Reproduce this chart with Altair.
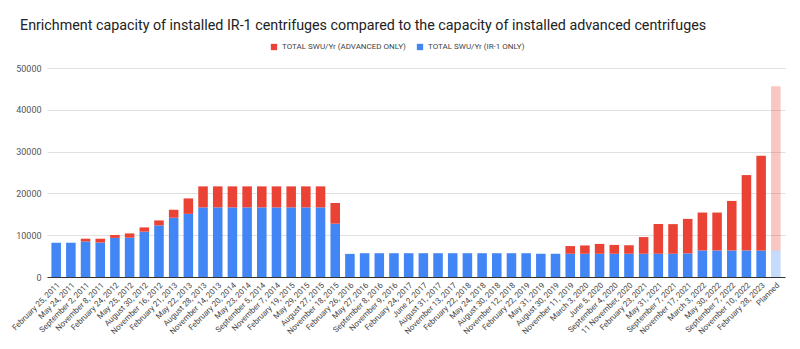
import altair as alt
import pandas as pd

dates = [
    "February 25, 2011", "May 24, 2011", "September 2, 2011", "November 8, 2011",
    "February 24, 2012", "May 25, 2012", "August 30, 2012", "November 16, 2012",
    "February 21, 2013", "May 22, 2013", "August 28, 2013", "November 14, 2013",
    "February 20, 2014", "May 23, 2014", "September 5, 2014", "November 7, 2014",
    "February 19, 2015", "May 29, 2015", "August 27, 2015", "November 18, 2015",
    "February 26, 2016", "May 27, 2016", "September 8, 2016", "November 9, 2016",
    "February 24, 2017", "June 2, 2017", "August 31, 2017", "November 13, 2017",
    "February 22, 2018", "May 24, 2018", "August 30, 2018", "November 12, 2018",
    "February 22, 2019", "May 31, 2019", "August 30, 2019", "November 11, 2019",
    "March 3, 2020", "June 5, 2020", "September 4, 2020", "11 November, 2020",
    "February 23, 2021", "May 31, 2021", "September 7, 2021", "November 17, 2021",
    "March 3, 2022", "May 30, 2022", "September 7, 2022", "November 10, 2022",
    "February 28, 2023", "Planned",
]

ir1_swu = [
    8200, 8200, 8500, 8250, 9350, 9400, 10850, 12350, 14200, 15100,
    16650, 16650, 16650, 16650, 16650, 16650, 16650, 16650, 16650, 12750,
    5530, 5690, 5690, 5690, 5690, 5690, 5690, 5690, 5690, 5690,
    5690, 5690, 5690, 5560, 5560, 5560, 5560, 5560, 5560, 5560,
    5560, 5560, 5560, 5650, 6350, 6350, 6350, 6350, 6350, 6350,
]

advanced_swu = [
    0, 0, 660, 910, 700, 1030, 1020, 1190, 1900, 3700,
    5030, 5030, 5030, 5030, 5030, 5030, 5030, 5030, 5030, 4950,
    0, 0, 0, 0, 0, 0, 0, 0, 0, 0,
    0, 0, 0, 0, 0, 1840, 1990, 2360, 2120, 2040,
    3990, 7120, 7090, 8250, 9070, 9070, 11850, 18030, 22650, 39300,
]

series_adv = "TOTAL SWU/Yr (ADVANCED ONLY)"
series_ir1 = "TOTAL SWU/Yr (IR-1 ONLY)"
y_ticks = [0, 10000, 20000, 30000, 40000, 50000]

rows = []
for d, a, b in zip(dates, ir1_swu, advanced_swu):
    rows.append({"date": d, "series": series_ir1, "value": a, "stack": 0})
    rows.append({"date": d, "series": series_adv, "value": b, "stack": 1})
df = pd.DataFrame(rows)

font = "Roboto"

chart = alt.Chart(df).mark_bar().encode(
    x=alt.X(
        "date:N",
        sort=dates,
        title=None,
        scale=alt.Scale(paddingInner=0.35, paddingOuter=0.3),
        axis=alt.Axis(
            labelAngle=-45, labelAlign="right", labelBaseline="top",
            labelFontSize=8, labelColor="#444444", labelFont=font,
            labelOverlap=False, labelPadding=4, ticks=False,
            domainColor="#333333", grid=False,
        ),
    ),
    y=alt.Y(
        "value:Q",
        stack="zero",
        title=None,
        scale=alt.Scale(domain=[0, 50000], nice=False),
        axis=alt.Axis(
            values=y_ticks, format="d", labelFontSize=9, labelColor="#555555",
            labelFont=font, ticks=False, domain=False, gridColor="#e0e0e0",
            labelPadding=6,
        ),
    ),
    color=alt.Color(
        "series:N",
        scale=alt.Scale(domain=[series_adv, series_ir1], range=["#ea4335", "#4285f4"]),
        legend=alt.Legend(
            title=None, orient="none", direction="horizontal",
            legendX=223, legendY=-25, symbolType="square", symbolSize=40,
            labelFontSize=8, labelColor="#444444", labelFont=font,
            columnPadding=10, symbolStrokeWidth=0,
        ),
    ),
    order=alt.Order("stack:Q", sort="ascending"),
    opacity=alt.condition(alt.datum.date == "Planned", alt.value(0.3), alt.value(1.0)),
).properties(
    width=738,
    height=209,
    title=alt.TitleParams(
        text="Enrichment capacity of installed IR-1 centrifuges compared to the capacity of installed advanced centrifuges",
        anchor="start", frame="group", fontSize=14.3, font=font, fontWeight="normal",
        color="#222222", dx=-27, offset=10,
    ),
    padding={"left": 47, "top": 68, "right": 15, "bottom": 72},
    autosize=alt.AutoSizeParams(type="none"),
).configure_view(stroke=None)

chart.save("out.html", embed_options={"renderer": "svg", "actions": False})
